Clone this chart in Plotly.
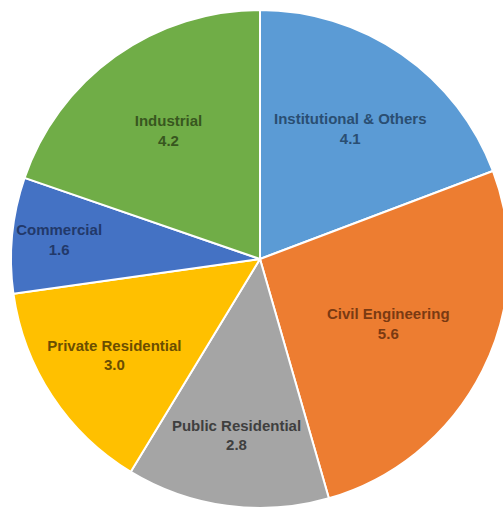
import plotly.graph_objects as go

categories = ["Institutional & Others", "Civil Engineering", "Public Residential",
              "Private Residential", "Commercial", "Industrial"]
values = [4.1, 5.6, 2.8, 3.0, 1.6, 4.2]
slice_colors = ["#5B9BD5", "#ED7D31", "#A5A5A5", "#FFC000", "#4472C4", "#70AD47"]
text_colors = ["#2A4E72", "#7A3A12", "#3F3F3F", "#6B4E00", "#22396A", "#38571F"]

W, H = 510, 511

fig = go.Figure(go.Pie(
    labels=categories,
    values=values,
    sort=False,
    direction="clockwise",
    rotation=0,
    marker=dict(colors=slice_colors, line=dict(color="white", width=2)),
    texttemplate="<b>%{label}</b><br><b>%{value:.1f}</b>",
    textposition="inside",
    insidetextorientation="horizontal",
    textfont=dict(family="Liberation Sans", size=15, color=text_colors),
    hoverinfo="label+value",
    showlegend=False,
    domain=dict(x=[11 / W, 509 / W], y=[3 / H, 501 / H]),
))

fig.update_layout(
    width=W, height=H,
    margin=dict(l=0, r=0, t=0, b=0),
    paper_bgcolor="white",
    plot_bgcolor="white",
)

fig.write_html("out.html", config={"displayModeBar": False},
               post_script="document.body.style.margin='0px';")
